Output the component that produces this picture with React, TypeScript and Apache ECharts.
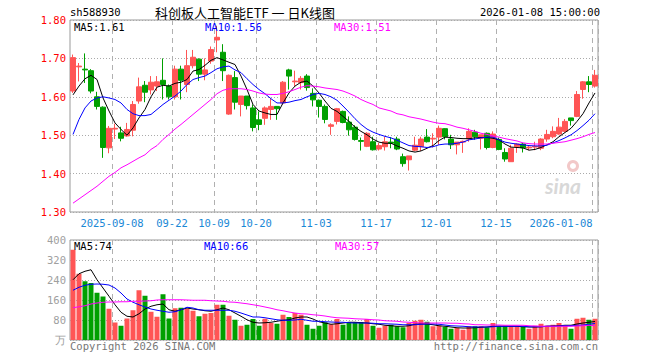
import React, { useEffect, useRef } from "react";
import * as echarts from "echarts";

const dates = [
  "2025-08-28","2025-08-29","2025-09-01","2025-09-02","2025-09-03","2025-09-04","2025-09-05",
  "2025-09-08","2025-09-09","2025-09-10","2025-09-11","2025-09-12","2025-09-15","2025-09-16",
  "2025-09-17","2025-09-18","2025-09-19","2025-09-22","2025-09-23","2025-09-24","2025-09-25",
  "2025-09-26","2025-09-29","2025-09-30","2025-10-09","2025-10-10","2025-10-13","2025-10-14",
  "2025-10-15","2025-10-16","2025-10-17","2025-10-20","2025-10-21","2025-10-22","2025-10-23",
  "2025-10-24","2025-10-27","2025-10-28","2025-10-29","2025-10-30","2025-10-31","2025-11-03",
  "2025-11-04","2025-11-05","2025-11-06","2025-11-07","2025-11-10","2025-11-11","2025-11-12",
  "2025-11-13","2025-11-14","2025-11-17","2025-11-18","2025-11-19","2025-11-20","2025-11-21",
  "2025-11-24","2025-11-25","2025-11-26","2025-11-27","2025-11-28","2025-12-01","2025-12-02",
  "2025-12-03","2025-12-04","2025-12-05","2025-12-08","2025-12-09","2025-12-10","2025-12-11",
  "2025-12-12","2025-12-15","2025-12-16","2025-12-17","2025-12-18","2025-12-19","2025-12-22",
  "2025-12-23","2025-12-24","2025-12-25","2025-12-26","2025-12-29","2025-12-30","2025-12-31",
  "2026-01-05","2026-01-06","2026-01-07","2026-01-08",
];

const opens = [
  1.615,1.678,1.672,1.668,1.600,1.573,1.467,1.516,1.506,1.498,1.513,1.589,1.630,1.618,1.628,
  1.643,1.628,1.600,1.672,1.632,1.681,1.698,1.659,1.693,1.748,1.716,1.555,1.650,1.580,1.602,
  1.571,1.540,1.544,1.567,1.575,1.584,1.670,1.639,1.637,1.654,1.609,1.591,1.575,1.523,1.536,
  1.562,1.534,1.521,1.486,1.471,1.483,1.464,1.470,1.482,1.490,1.444,1.436,1.461,1.470,1.495,
  1.490,1.495,1.517,1.490,1.475,1.482,1.490,1.508,1.492,1.505,1.468,1.489,1.455,1.431,1.470,
  1.477,1.467,1.469,1.466,1.490,1.496,1.503,1.510,1.545,1.549,1.619,1.639,1.628,
];
const closes = [
  1.702,1.680,1.670,1.615,1.575,1.468,1.518,1.518,1.492,1.515,1.580,1.626,1.612,1.638,1.639,
  1.632,1.600,1.672,1.643,1.681,1.703,1.659,1.670,1.723,1.755,1.668,1.656,1.586,1.602,1.577,
  1.520,1.528,1.571,1.575,1.569,1.638,1.654,1.641,1.648,1.624,1.592,1.575,1.541,1.527,1.569,
  1.533,1.514,1.489,1.484,1.505,1.462,1.473,1.483,1.479,1.464,1.426,1.446,1.474,1.490,1.483,
  1.492,1.518,1.496,1.475,1.482,1.484,1.510,1.496,1.501,1.468,1.503,1.463,1.438,1.466,1.477,
  1.467,1.469,1.471,1.490,1.502,1.510,1.521,1.536,1.538,1.606,1.639,1.632,1.656,
];
const highs = [
  1.710,1.688,1.713,1.672,1.613,1.575,1.524,1.530,1.522,1.532,1.589,1.650,1.641,1.654,1.654,
  1.700,1.632,1.681,1.681,1.722,1.722,1.700,1.700,1.731,1.785,1.737,1.658,1.667,1.602,1.602,
  1.580,1.562,1.575,1.596,1.576,1.641,1.673,1.668,1.654,1.659,1.622,1.593,1.580,1.531,1.571,
  1.564,1.549,1.526,1.494,1.508,1.496,1.480,1.496,1.495,1.496,1.452,1.446,1.496,1.496,1.516,
  1.505,1.525,1.518,1.501,1.482,1.486,1.518,1.514,1.501,1.507,1.510,1.494,1.466,1.475,1.479,
  1.480,1.473,1.483,1.492,1.514,1.523,1.545,1.542,1.545,1.615,1.641,1.654,1.670,
];
const lows = [
  1.610,1.640,1.636,1.609,1.567,1.441,1.453,1.490,1.484,1.496,1.497,1.582,1.586,1.606,1.615,
  1.593,1.593,1.593,1.593,1.612,1.674,1.641,1.643,1.686,1.716,1.641,1.553,1.567,1.549,1.567,
  1.510,1.513,1.527,1.540,1.540,1.580,1.619,1.628,1.619,1.616,1.575,1.546,1.531,1.501,1.528,
  1.531,1.499,1.486,1.460,1.469,1.460,1.460,1.460,1.466,1.461,1.418,1.408,1.458,1.459,1.481,
  1.468,1.475,1.489,1.464,1.450,1.454,1.483,1.488,1.463,1.463,1.466,1.461,1.431,1.431,1.454,
  1.455,1.461,1.461,1.461,1.483,1.492,1.501,1.507,1.525,1.547,1.595,1.612,1.624,
];

const volumes = [
  361,265,235,228,189,174,125,70,57,86,119,199,177,113,93,183,86,127,129,125,117,95,105,108,
  141,141,97,81,57,61,84,57,85,68,65,101,92,108,101,61,45,57,71,63,84,61,71,71,72,84,57,49,
  57,61,55,51,68,77,81,73,55,57,53,45,48,41,55,55,55,51,68,57,57,55,55,52,45,57,65,57,61,68,
  57,45,85,89,81,85,
];

const ma5 = [
  1.605,1.628,1.647,1.656,1.645,1.597,1.563,1.532,1.515,1.500,1.519,1.545,1.567,1.600,1.625,
  1.630,1.628,1.635,1.638,1.645,1.667,1.671,1.682,1.695,1.702,1.696,1.690,1.684,1.654,1.619,
  1.580,1.563,1.558,1.554,1.554,1.584,1.610,1.628,1.638,1.641,1.628,1.610,1.589,1.570,1.562,
  1.549,1.536,1.521,1.510,1.501,1.490,1.482,1.479,1.479,1.472,1.466,1.459,1.456,1.459,1.466,
  1.473,1.486,1.495,1.494,1.492,1.491,1.491,1.493,1.494,1.494,1.492,1.488,1.477,1.469,1.468,
  1.467,1.461,1.463,1.468,1.475,1.483,1.496,1.507,1.518,1.536,1.556,1.584,1.610,
];
const ma10 = [
  1.502,1.541,1.571,1.589,1.597,1.600,1.597,1.593,1.584,1.567,1.556,1.551,1.551,1.554,1.567,
  1.580,1.591,1.602,1.615,1.632,1.645,1.650,1.654,1.663,1.673,1.678,1.680,1.670,1.663,1.647,
  1.632,1.619,1.608,1.595,1.584,1.584,1.586,1.590,1.593,1.600,1.606,1.609,1.606,1.600,1.591,
  1.576,1.560,1.543,1.528,1.516,1.508,1.502,1.497,1.493,1.487,1.480,1.473,1.471,1.470,1.468,
  1.470,1.475,1.477,1.477,1.479,1.482,1.488,1.490,1.493,1.495,1.495,1.488,1.482,1.479,1.477,
  1.475,1.473,1.472,1.472,1.474,1.480,1.486,1.493,1.501,1.512,1.525,1.539,1.556,
];
const ma30 = [
  1.323,1.334,1.345,1.356,1.367,1.380,1.393,1.403,1.415,1.423,1.432,1.441,1.449,1.463,1.473,
  1.489,1.502,1.516,1.528,1.541,1.554,1.567,1.580,1.593,1.608,1.617,1.621,1.621,1.621,1.619,
  1.615,1.610,1.607,1.606,1.606,1.609,1.613,1.619,1.625,1.629,1.628,1.626,1.623,1.621,1.619,
  1.615,1.609,1.602,1.593,1.586,1.580,1.571,1.567,1.563,1.556,1.553,1.548,1.545,1.542,1.538,
  1.534,1.531,1.530,1.526,1.521,1.518,1.514,1.510,1.505,1.502,1.498,1.495,1.491,1.488,1.485,
  1.480,1.478,1.477,1.477,1.477,1.479,1.481,1.483,1.487,1.491,1.496,1.502,1.507,
];

const volMa5 = [
  241,265,275,281,241,208,175,141,111,95,92,105,124,135,141,144,121,115,121,128,124,121,117,115,
  121,128,121,108,95,81,71,68,69,71,75,79,81,88,92,92,84,73,68,63,65,68,71,71,69,68,65,63,
  59,57,55,55,57,63,65,64,61,57,55,52,49,48,48,49,51,52,55,55,55,55,55,53,52,52,53,55,56,57,
  59,59,64,68,71,74,
];
const volMa10 = [
  199,211,219,223,224,223,220,208,188,164,151,141,132,124,119,115,111,113,121,131,128,121,119,119,
  119,119,119,115,108,100,92,92,89,85,81,79,79,80,83,79,75,75,73,72,71,71,69,68,68,68,67,65,
  65,64,63,61,61,61,63,64,64,63,60,57,56,55,53,52,52,52,53,55,55,55,55,55,53,53,53,55,55,56,
  57,57,59,60,63,66,
];
const volMa30 = [
  129,133,137,144,148,151,152,152,153,153,155,155,156,157,160,161,161,161,161,160,159,159,159,157,
  156,155,152,151,148,145,141,137,132,127,121,117,112,108,105,104,101,99,96,92,89,88,87,85,84,83,81,80,
  77,76,75,72,71,69,68,68,68,68,68,67,67,65,64,61,61,60,60,60,59,59,59,59,57,56,55,55,55,55,
  55,55,56,57,59,57,
];

const tickDates = [
  "2025-09-08","2025-09-22","2025-10-09","2025-10-20","2025-11-03",
  "2025-11-17","2025-12-01","2025-12-15","2026-01-08",
];
const tickTexts = ["2025-09-08","09-22","10-09","10-20","11-03","11-17","12-01","12-15","2026-01-08"];

const priceMin = 1.3;
const priceMax = 1.8;
const priceStep = 0.1;
const volMin = 0;
const volMax = 400;
const volStep = 80;

const UP = "#ff5555";
const DOWN = "#00a000";
const MONO = "DejaVu Sans Mono, monospace";
const CJK = "Noto Sans CJK SC, sans-serif";

export default function App() {
  const ref = useRef<HTMLDivElement>(null);
  useEffect(() => {
    const chart = echarts.init(ref.current as HTMLDivElement, undefined, { renderer: "svg" });
    const isTick = (i: number) => tickDates.indexOf(dates[i]) >= 0;
    const last = dates.length - 1;
    const vSplit = {
      show: true,
      interval: (i: number) => isTick(i),
      lineStyle: { color: "#b0b0b0", type: [5, 4] as any, width: 1 },
    };
    const hSplit = {
      show: true,
      lineStyle: { color: "#aaaaaa", type: [1, 2] as any, width: 1 },
    };
    const option: any = {
      animation: false,
      backgroundColor: "#ffffff",
      grid: [
        { left: 70, top: 20, width: 528, height: 192, show: true, borderColor: "#999", borderWidth: 1, backgroundColor: "transparent" },
        { left: 70, top: 240, width: 528, height: 100, show: true, borderColor: "#999", borderWidth: 1, backgroundColor: "transparent" },
      ],
      xAxis: [
        {
          type: "category",
          gridIndex: 0,
          data: dates,
          boundaryGap: true,
          axisLine: { show: false },
          axisTick: { show: false },
          splitLine: vSplit,
          axisLabel: {
            show: true,
            interval: (i: number) => isTick(i),
            margin: 5,
            color: "#1a88d6",
            fontFamily: MONO,
            fontSize: 10.5,
            formatter: (value: string) => {
              const k = tickDates.indexOf(value);
              if (k < 0) return "";
              return k === tickDates.length - 1 ? `{e|${tickTexts[k]}}` : `{c|${tickTexts[k]}}`;
            },
            rich: {
              c: { padding: [0, 6, 0, 0], color: "#1a88d6", fontFamily: MONO, fontSize: 10.5 },
              e: { padding: [0, 68, 0, 0], color: "#1a88d6", fontFamily: MONO, fontSize: 10.5 },
            },
          },
        },
        {
          type: "category",
          gridIndex: 1,
          data: dates,
          boundaryGap: true,
          axisLine: { show: false },
          axisTick: { show: false },
          axisLabel: { show: false },
          splitLine: vSplit,
        },
      ],
      yAxis: [
        {
          type: "value",
          gridIndex: 0,
          min: priceMin,
          max: priceMax,
          interval: priceStep,
          axisLine: { show: false },
          axisTick: { show: false },
          splitLine: hSplit,
          axisLabel: {
            color: "#ff0000",
            fontFamily: MONO,
            fontSize: 10.5,
            margin: 4,
            formatter: (v: number) => v.toFixed(2),
          },
        },
        {
          type: "value",
          gridIndex: 1,
          min: volMin,
          max: volMax,
          interval: volStep,
          axisLine: { show: false },
          axisTick: { show: false },
          splitLine: hSplit,
          axisLabel: {
            color: "#a0a0a0",
            fontFamily: MONO,
            fontSize: 10.5,
            margin: 4,
            formatter: (v: number) => (v === 0 ? "万" : String(v)),
          },
        },
      ],
      series: [
        {
          type: "candlestick",
          xAxisIndex: 0,
          yAxisIndex: 0,
          barWidth: 5,
          data: dates.map((_, i) => [opens[i], closes[i], lows[i], highs[i]]),
          itemStyle: { color: UP, color0: DOWN, borderColor: UP, borderColor0: DOWN, borderWidth: 1 },
        },
        { type: "line", xAxisIndex: 0, yAxisIndex: 0, data: ma5, showSymbol: false, symbol: "none", lineStyle: { color: "#000000", width: 1 } },
        { type: "line", xAxisIndex: 0, yAxisIndex: 0, data: ma10, showSymbol: false, symbol: "none", lineStyle: { color: "#0000ff", width: 1 } },
        { type: "line", xAxisIndex: 0, yAxisIndex: 0, data: ma30, showSymbol: false, symbol: "none", lineStyle: { color: "#ff00ff", width: 1 } },
        {
          type: "bar",
          xAxisIndex: 1,
          yAxisIndex: 1,
          barWidth: 5,
          data: volumes.map((v, i) => ({ value: v, itemStyle: { color: closes[i] >= opens[i] ? UP : DOWN } })),
        },
        { type: "line", xAxisIndex: 1, yAxisIndex: 1, data: volMa5, showSymbol: false, symbol: "none", lineStyle: { color: "#000000", width: 1 } },
        { type: "line", xAxisIndex: 1, yAxisIndex: 1, data: volMa10, showSymbol: false, symbol: "none", lineStyle: { color: "#0000ff", width: 1 } },
        { type: "line", xAxisIndex: 1, yAxisIndex: 1, data: volMa30, showSymbol: false, symbol: "none", lineStyle: { color: "#ff00ff", width: 1 } },
      ],
      graphic: [
        { type: "text", x: 70, y: 12, style: { text: "sh588930", fill: "#000", font: `10.5px ${MONO}`, textVerticalAlign: "middle" } },
        { type: "text", x: 245, y: 12, style: { text: "科创板人工智能ETF 一 日K线图", fill: "#000", font: `13px ${CJK}`, textAlign: "center", textVerticalAlign: "middle" } },
        { type: "text", x: 600, y: 12, style: { text: "2026-01-08 15:00:00", fill: "#000", font: `10.5px ${MONO}`, textAlign: "right", textVerticalAlign: "middle" } },
        { type: "text", x: 74, y: 27, z: 10, style: { text: `MA5:${ma5[last].toFixed(2)}`, fill: "#000", font: `10.5px ${MONO}`, textVerticalAlign: "middle" } },
        { type: "text", x: 205, y: 27, z: 10, style: { text: `MA10:${ma10[last].toFixed(2)}`, fill: "#0000ff", font: `10.5px ${MONO}`, textVerticalAlign: "middle" } },
        { type: "text", x: 334, y: 27, z: 10, style: { text: `MA30:${ma30[last].toFixed(2)}`, fill: "#ff00ff", font: `10.5px ${MONO}`, textVerticalAlign: "middle" } },
        { type: "text", x: 74, y: 246, z: 10, style: { text: `MA5:${volMa5[last]}`, fill: "#000", font: `10.5px ${MONO}`, textVerticalAlign: "middle" } },
        { type: "text", x: 204, y: 246, z: 10, style: { text: `MA10:${volMa10[last]}`, fill: "#0000ff", font: `10.5px ${MONO}`, textVerticalAlign: "middle" } },
        { type: "text", x: 335, y: 246, z: 10, style: { text: `MA30:${volMa30[last]}`, fill: "#ff00ff", font: `10.5px ${MONO}`, textVerticalAlign: "middle" } },
        { type: "text", x: 70, y: 346, style: { text: "Copyright 2026 SINA.COM", fill: "#777", font: `10.5px ${MONO}`, textVerticalAlign: "middle" } },
        { type: "text", x: 598, y: 346, style: { text: "http://finance.sina.com.cn", fill: "#777", font: `10.5px ${MONO}`, textAlign: "right", textVerticalAlign: "middle" } },
        { type: "ring", shape: { cx: 573, cy: 166, r: 6, r0: 3 }, style: { fill: "#f2c8c8" } },
        { type: "text", x: 545, y: 185, style: { text: "sina", fill: "#d8d8d8", font: `italic bold 21px Lato, sans-serif`, textVerticalAlign: "middle" } },
      ],
    };
    chart.setOption(option);
    return () => chart.dispose();
  }, []);
  return <div ref={ref} style={{ position: "fixed", left: 0, top: 0, width: 660, height: 360 }} />;
}
